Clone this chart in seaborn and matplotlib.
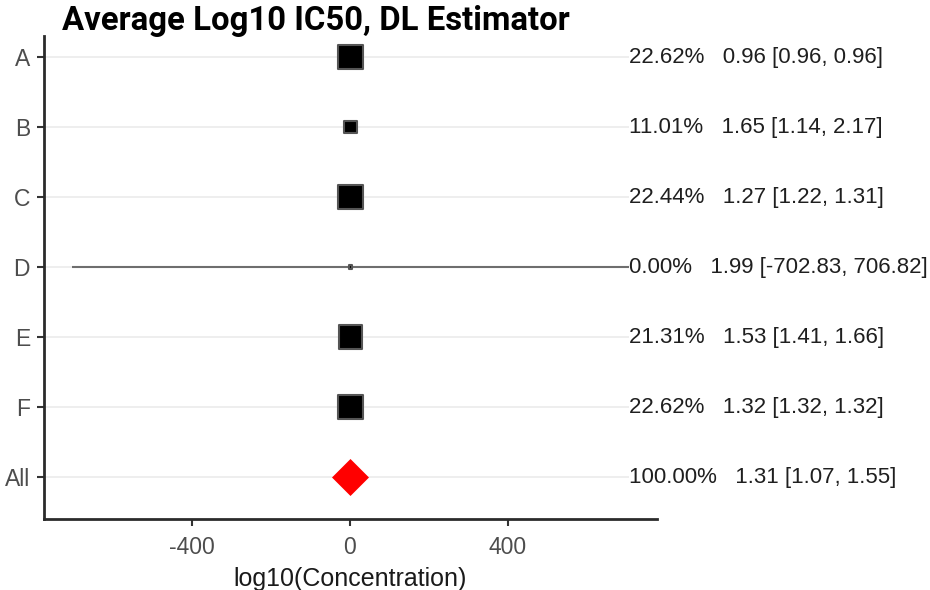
import numpy as np
import pandas as pd
import matplotlib
matplotlib.use("Agg")
import matplotlib.pyplot as plt
import seaborn as sns

# ---- data ----
studies = ["A", "B", "C", "D", "E", "F"]
weights = [22.62, 11.01, 22.44, 0.00, 21.31, 22.62]
estimates = [0.96, 1.65, 1.27, 1.99, 1.53, 1.32]
lower = [0.96, 1.14, 1.22, -702.83, 1.41, 1.32]
upper = [0.96, 2.17, 1.31, 706.82, 1.66, 1.32]
pooled_label = "All"
pooled_weight = 100.00
pooled_est = 1.31
pooled_lower = 1.07
pooled_upper = 1.55
xticks = [-400, 0, 400]
title = "Average Log10 IC50, DL Estimator"
xlabel = "log10(Concentration)"

sns.set_theme(style="white")
plt.rcParams["font.family"] = ["Liberation Sans", "DejaVu Sans"]

W, H = 930, 590
fig = plt.figure(figsize=(W / 100, H / 100), dpi=100)
ax = fig.add_axes([44 / W, 1 - 519 / H, (657 - 44) / W, (519 - 36) / H])

labels = studies + [pooled_label]
ypos = np.arange(len(labels))
all_w = weights + [pooled_weight]
all_e = estimates + [pooled_est]
all_lo = lower + [pooled_lower]
all_hi = upper + [pooled_upper]

df = pd.DataFrame({"y": ypos[:-1], "est": estimates,
                   "w2": np.square(np.array(weights))})
dfp = pd.DataFrame({"y": [ypos[-1]], "est": [pooled_est]})

for y in ypos:
    ax.axhline(y, color="#ebebeb", lw=1.2, zorder=0)
ax.hlines(ypos, all_lo, all_hi, color="#6e6e6e", lw=1.5, zorder=1)

sns.scatterplot(data=df, x="est", y="y", size="w2", sizes=(8, 320),
                marker="s", color="black", edgecolor="#555555",
                linewidth=1.5, legend=False, ax=ax, zorder=3)
sns.scatterplot(data=dfp, x="est", y="y", marker="D", s=355, color="red",
                edgecolor="red", linewidth=0, legend=False, ax=ax, zorder=3)

lo_min, hi_max = min(all_lo), max(all_hi)
rng = hi_max - lo_min
ax.set_xlim(lo_min - 0.05 * rng, hi_max + 0.05 * rng)
ax.set_ylim(len(labels) - 1 + 0.6, -0.3)

for y, w, e, lo, hi in zip(ypos, all_w, all_e, all_lo, all_hi):
    ax.text(hi_max, y, f"{w:.2f}%   {e:.2f} [{lo:.2f}, {hi:.2f}]",
            ha="left", va="center", fontsize=16, color="#1f1f1f",
            clip_on=False, zorder=4,
            bbox=dict(facecolor="white", edgecolor="none", pad=0))

ax.set_yticks(ypos)
ax.set_yticklabels(labels)
ax.set_xticks(xticks)
ax.set_xticklabels([str(t) for t in xticks])
ax.set_xlabel(xlabel, fontsize=18, color="#1a1a1a", labelpad=6)
ax.set_ylabel("")

for s in ["top", "right"]:
    ax.spines[s].set_visible(False)
for s in ["left", "bottom"]:
    ax.spines[s].set_color("#2b2b2b")
    ax.spines[s].set_linewidth(2.0)
ax.tick_params(axis="both", bottom=True, left=True, direction="out",
               length=5, width=1.5, color="#333333", labelcolor="#4d4d4d",
               labelsize=16.5, pad=5)
ax.tick_params(axis="x", pad=7)

fig.text(62 / W, 1 - 5 / H, title, fontsize=23.7, fontweight="bold",
         family=["Roboto", "DejaVu Sans"], color="black", ha="left", va="top")

fig.savefig("out.png", dpi=100)
